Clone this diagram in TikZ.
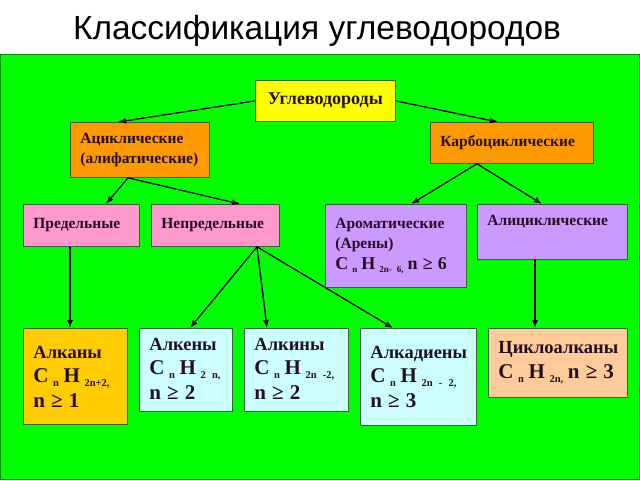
\documentclass[tikz,border=0pt]{standalone}
\usepackage{fontspec}
\setmainfont{Liberation Serif}[BoldFont={Liberation Serif Bold}]
\newfontfamily\boxfont{Liberation Serif Bold}
\newfontfamily\titlefont{Liberation Sans}
\usepackage{tikz}
\usetikzlibrary{arrows.meta, positioning}

\definecolor{bggreen}{RGB}{0,255,0}
\definecolor{rootyellow}{RGB}{255,255,0}
\definecolor{classorange}{RGB}{255,153,0}
\definecolor{satpink}{RGB}{255,153,204}
\definecolor{cyclilac}{RGB}{204,153,255}
\definecolor{alkgold}{RGB}{255,204,0}
\definecolor{unsatcyan}{RGB}{204,255,255}
\definecolor{cyclotan}{RGB}{255,204,153}
\definecolor{boxline}{RGB}{60,95,60}
\definecolor{txtdark}{RGB}{35,15,35}

\newcommand{\fml}[1]{{\fontsize{21}{24.5}\selectfont #1}}
\newcommand{\sbs}[2][10.5]{\hspace{0.22em}\raisebox{-0.4ex}{\fontsize{#1}{#1}\selectfont #2}\hspace{0.22em}}

\begin{document}
\begin{tikzpicture}[
  x=1pt, y=-1pt,
  box/.style={rectangle, draw=boxline, line width=0.8pt, anchor=north west,
              align=left, inner xsep=10pt, inner ysep=0pt, text=txtdark,
              font=\boxfont\fontsize{15.5}{20.5}\selectfont},
  lowbox/.style={box, font=\boxfont\fontsize{18.5}{24.5}\selectfont},
  arr/.style={-{Latex[length=8pt, width=6pt]}, line width=1.3pt, draw=black}
]
\useasboundingbox (0,0) rectangle (640,480);
\fill[bggreen, draw=black!45!green] (0.5,54) rectangle (639.5,479.5);
\node[anchor=base, font=\titlefont\fontsize{33.5}{36}\selectfont] (title) at (317,39) {Классификация углеводородов};

% top level
\node[box, fill=rootyellow, align=center, text width=120pt, minimum height=41pt,
      font=\boxfont\fontsize{18}{20}\selectfont] (root) at (255,80) {Углеводороды};

% second level
\node[box, fill=classorange, text width=119pt, minimum height=55pt] (acyc) at (70,122) {Ациклические\\(алифатические)};
\node[box, fill=classorange, text width=143pt, minimum height=41pt] (carbo) at (430,122) {Карбоциклические};

% third level
\node[box, fill=satpink, text width=96pt, minimum height=42pt] (sat) at (23,204) {Предельные};
\node[box, fill=satpink, text width=108pt, minimum height=42pt] (unsat) at (151,204) {Непредельные};
\node[box, fill=cyclilac, text width=121pt, minimum height=83pt] (arom) at (325,204)
  {Ароматические\\(Арены)\\{\fontsize{18}{21}\selectfont C\sbs[9]{n}H\sbs[9]{2n-~6,}n~≥~6}};
\node[box, fill=cyclilac, text width=130pt, minimum height=55pt, text height=18pt, text depth=31pt] (alicyc) at (477,204) {Алициклические};

% bottom level
\node[lowbox, fill=alkgold, text width=84pt, minimum height=96pt] (alkanes) at (23,328)
  {Алканы\\\fml{C\sbs{n}H\sbs{2n+2,}}\\\fml{n~≥~1}};
\node[lowbox, fill=unsatcyan, text width=73pt, minimum height=83pt, text depth=52pt] (alkenes) at (139,328)
  {Алкены\\\fml{C\sbs{n}H\sbs{2~n,}}\\\fml{n~≥~2}};
\node[lowbox, fill=unsatcyan, text width=84pt, minimum height=83pt, text depth=52pt] (alkynes) at (244,328)
  {Алкины\\\fml{C\sbs{n}H\sbs{2n~-2,}}\\\fml{n~≥~2}};
\node[lowbox, fill=unsatcyan, text width=96pt, minimum height=97pt] (dienes) at (360,328)
  {Алкадиены\\\fml{C\sbs{n}H\sbs{2n~-~2,}}\\\fml{n~≥~3}};
\node[lowbox, fill=cyclotan, text width=119pt, minimum height=69pt] (cyclo) at (488,328)
  {Циклоалканы\\\fml{C\sbs{n}H\sbs{2n,}n~≥~3}};

\draw[arr] (root.west) -- ([xshift=48pt]acyc.north west);
\draw[arr] (root.east) -- ([xshift=68pt]carbo.north west);
\draw[arr] ([xshift=58pt]acyc.south west) -- ([xshift=83pt]sat.north west);
\draw[arr] ([xshift=58pt]acyc.south west) -- ([xshift=89pt]unsat.north west);
\draw[arr] ([xshift=47pt]carbo.south west) -- ([xshift=86pt]arom.north west);
\draw[arr] ([xshift=47pt]carbo.south west) -- ([xshift=65pt]alicyc.north west);
\draw[arr] ([xshift=47pt]sat.south west) -- ([xshift=47pt]alkanes.north west);
\draw[arr] ([xshift=106pt]unsat.south west) -- ([xshift=51pt]alkenes.north west);
\draw[arr] ([xshift=106pt]unsat.south west) -- ([xshift=23pt]alkynes.north west);
\draw[arr] ([xshift=106pt]unsat.south west) -- ([xshift=33pt]dienes.north west);
\draw[arr] ([xshift=58pt]alicyc.south west) -- ([xshift=47pt]cyclo.north west);
\end{tikzpicture}
\end{document}
